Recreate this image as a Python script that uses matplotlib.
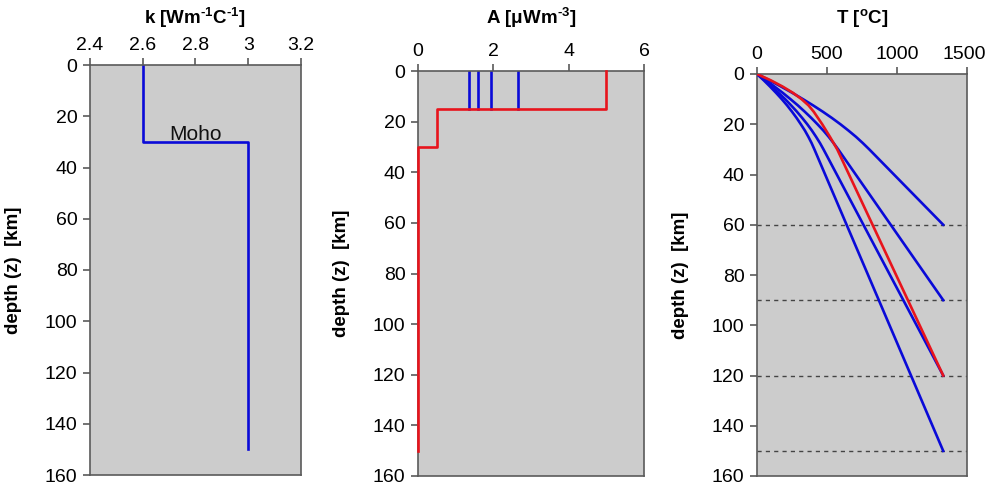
import numpy as np
import matplotlib
matplotlib.use("Agg")
import matplotlib.pyplot as plt
import matplotlib.transforms as mtrans

plt.rcParams['font.family'] = ['Liberation Sans', 'DejaVu Sans']
plt.rcParams['mathtext.fontset'] = 'custom'
plt.rcParams['mathtext.rm'] = 'Liberation Sans:bold'
plt.rcParams['mathtext.bf'] = 'Liberation Sans:bold'
plt.rcParams['mathtext.it'] = 'Liberation Sans:bold'

# ---------------- data ----------------
depth_ticks = [0, 20, 40, 60, 80, 100, 120, 140, 160]

# panel 1: thermal conductivity profile
k_layer_top = [0, 30]
k_layer_bot = [30, 150]
k_values = [2.6, 3.0]

# panel 2: heat production
A_red_top = [0, 15, 30]
A_red_bot = [15, 30, 150]
A_red_values = [5.0, 0.5, 0.0]
A_blue_values = [1.35, 1.6, 1.95, 2.65]
A_blue_bottom = 15

# panel 3: geotherms (depth km, T degC)
red_z = [0, 2.5, 5, 7.5, 10, 12.5, 15, 20, 25, 30, 120]
red_T = [0, 98, 183, 257, 318, 368, 405, 466, 521, 573, 1330]

crust_z = [0, 2.5, 5, 7.5, 10, 12.5, 15, 17.5, 20, 22.5, 25, 27.5, 30]
blue_T_crust = [
    [0, 88, 172, 252, 328, 401, 470, 535, 596, 653, 707, 756, 802],
    [0, 64, 125, 184, 239, 292, 341, 388, 432, 474, 512, 547, 580],
    [0, 54, 106, 154, 201, 244, 285, 323, 359, 392, 422, 450, 475],
    [0, 48, 93, 136, 177, 215, 250, 283, 313, 342, 367, 390, 410],
]
lab_depths = [60, 90, 120, 150]
T_lab = 1330

# ---------------- style ----------------
BG = '#cccccc'
SP = '#5a5a5a'
BLUE = '#0a0ad8'
RED = '#e8141c'
FS = 13.5
TFS = 14
LW = 1.9

W, H = 986, 488
fig = plt.figure(figsize=(W / 100, H / 100), dpi=100)

def make_ax(l, r, t, b):
    ax = fig.add_axes([l / W, 1 - b / H, (r - l) / W, (b - t) / H])
    ax.set_facecolor(BG)
    for s in ax.spines.values():
        s.set_color(SP)
        s.set_linewidth(1.2)
    ax.xaxis.tick_top()
    ax.tick_params(axis='both', direction='out', length=5, width=1.2,
                   color=SP, labelsize=TFS, pad=4)
    ax.tick_params(axis='x', pad=3)
    ax.set_ylim(160, 0)
    ax.set_yticks(depth_ticks)
    ax.set_ylabel('depth (z)  [km]', fontsize=FS, fontweight='bold')
    ax.yaxis.set_label_coords(-68 / (r - l), 0.5)
    return ax

# panel 1
ax1 = make_ax(90, 301, 65, 475)
ax1.set_xlim(2.4, 3.2)
ax1.set_xticks([2.4, 2.6, 2.8, 3.0, 3.2])
ax1.set_xticklabels(['2.4', '2.6', '2.8', '3', '3.2'])
kx = np.repeat(k_values, 2)
ky = np.ravel(np.column_stack([k_layer_top, k_layer_bot]))
ax1.plot(kx, ky, color=BLUE, lw=LW)
ax1.text(2.80, 27, 'Moho', fontsize=15, ha='center', va='center', color='#111111')
fig.text(195 / W, 1 - 18 / H, r'k [Wm$^{\text{-1}}$C$^{\text{-1}}$]',
         ha='center', va='center', fontsize=FS, fontweight='bold')

# panel 2
ax2 = make_ax(418, 644, 71, 476)
ax2.set_xlim(0, 6)
ax2.set_xticks([0, 2, 4, 6])
for a in A_blue_values:
    ax2.plot([a, a], [0, A_blue_bottom], color=BLUE, lw=LW)
ax2_x = np.repeat(A_red_values, 2)
ax2_y = np.ravel(np.column_stack([A_red_top, A_red_bot]))
ax2.plot(ax2_x, ax2_y, color=RED, lw=LW, clip_on=False, zorder=5)
fig.text(531 / W, 1 - 18 / H, r'A [μWm$^{\text{-3}}$]',
         ha='center', va='center', fontsize=FS, fontweight='bold')

# panel 3
ax3 = make_ax(757, 967, 74, 476)
ax3.set_xlim(0, 1500)
ax3.set_xticks([0, 500, 1000, 1500])
last = ax3.get_xticklabels()[-1]
last.set_transform(last.get_transform() + mtrans.ScaledTranslation(-3 / 100, 0, fig.dpi_scale_trans))
for d in lab_depths:
    ax3.axhline(d, color='#444444', lw=1.0, ls=(0, (3, 3)), zorder=1)
for tc, d in zip(blue_T_crust, lab_depths):
    ax3.plot(tc + [T_lab], crust_z + [d], color=BLUE, lw=LW, zorder=3)
ax3.plot(red_T, red_z, color=RED, lw=LW, zorder=4)
fig.text(862 / W, 1 - 18 / H, r'T [$^{\text{o}}$C]',
         ha='center', va='center', fontsize=FS, fontweight='bold')

fig.savefig('out.png', dpi=100)
